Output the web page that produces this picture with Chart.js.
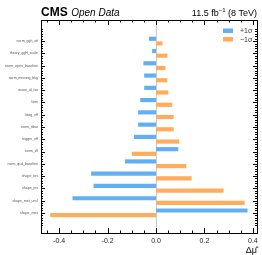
<!DOCTYPE html>
<html><head><meta charset="utf-8">
<script src="https://cdn.jsdelivr.net/npm/chart.js@4"></script>
<style>html,body{margin:0;padding:0;background:#fff}#w{width:262px;height:255px}</style>
</head><body><div id="w"><canvas id="c"></canvas></div>
<script>
const categories = ["norm_ggh_ztt","theory_ggH_scale","norm_wjets_baseline","norm_missing_bkg","muon_id_iso","lumi","btag_eff","norm_ttbar","trigger_eff","norm_zll","norm_qcd_baseline","shape_tes","shape_jes","shape_met_uncl","shape_mes"];
const plusOne  = [-0.029,-0.016,-0.052,-0.049,-0.049,-0.065,-0.074,-0.074,-0.091,0.092,-0.128,-0.268,-0.258,-0.345,0.378];
const minusOne = [0.027,0.047,0.039,0.047,0.051,0.067,0.073,0.073,0.096,-0.100,0.125,0.147,0.279,0.366,-0.437];
const xTicks = [-0.4,-0.2,0.0,0.2,0.4];
const seriesLabels = ["+1σ","−1σ"];
const colors = ["#62b0f3","#ffad5c"];

const decor = {
  id:'decor',
  beforeDatasetsDraw(chart){
    const {ctx, chartArea:a, scales:{x}} = chart;
    ctx.save();
    ctx.strokeStyle='#c8c8c8'; ctx.lineWidth=1;
    const px = Math.round(x.getPixelForValue(0))+0.5;
    ctx.beginPath(); ctx.moveTo(px,a.top); ctx.lineTo(px,a.bottom); ctx.stroke();
    ctx.restore();
  },
  afterDraw(chart){
    const {ctx, chartArea:a, scales:{x,y}} = chart;
    ctx.save();
    ctx.strokeStyle='#000'; ctx.lineWidth=1;
    ctx.strokeRect(Math.round(a.left)+0.5, Math.round(a.top)+0.5, Math.round(a.right-a.left), Math.round(a.bottom-a.top));
    ctx.beginPath();
    // x ticks
    for (let k=-9;k<=8;k++){
      const v=k*0.05; if (v<x.min||v>x.max) continue;
      const p=Math.round(x.getPixelForValue(v))+0.5;
      const major = Math.abs(Math.round(v*10)/10 - v)<1e-9 && Math.round(v*10)%2===0;
      const L = major?5:2.5;
      ctx.moveTo(p,a.bottom); ctx.lineTo(p,a.bottom-L);
      ctx.moveTo(p,a.top); ctx.lineTo(p,a.top+L);
    }
    // y ticks
    for (let i=-5;i<=75;i++){
      const v=i/5; if (v<y.min||v>y.max) continue;
      const p=Math.round(y.getPixelForValue(v))+0.5;
      const major = i%5===0 && v>=0 && v<=14;
      const L = major?4:2;
      ctx.moveTo(a.left,p); ctx.lineTo(a.left+L,p);
      ctx.moveTo(a.right,p); ctx.lineTo(a.right-L,p);
    }
    ctx.stroke();
    // header
    ctx.fillStyle='#000'; ctx.textBaseline='alphabetic';
    ctx.font='bold 12px "Liberation Sans", Arial, sans-serif';
    ctx.textAlign='left';
    ctx.fillText('CMS', a.left, 16);
    const w = ctx.measureText('CMS').width;
    ctx.font='italic 10px "Liberation Sans", Arial, sans-serif';
    ctx.fillText('Open Data', a.left+w+3.5, 16);
    ctx.textAlign='right';
    ctx.font='9px "Liberation Sans", Arial, sans-serif';
    const t2=' (8 TeV)';
    ctx.fillText(t2, a.right, 16);
    let r = a.right - ctx.measureText(t2).width;
    ctx.font='6px "Liberation Sans", Arial, sans-serif';
    ctx.fillText('−1', r, 12);
    r -= ctx.measureText('−1').width;
    ctx.font='9px "Liberation Sans", Arial, sans-serif';
    ctx.fillText('11.5 fb', r, 16);
    // legend
    ctx.textAlign='left';
    ctx.font='7px "Liberation Sans", Arial, sans-serif';
    chart.data.datasets.forEach((ds,i)=>{
      const yy = 28.5 + i*8.5;
      ctx.fillStyle = ds.backgroundColor;
      ctx.fillRect(223, yy, 10, 4.5);
      ctx.fillStyle='#333';
      ctx.fillText(ds.label, 240, yy+4.5);
    });
    // axis title
    ctx.textAlign='right'; ctx.fillStyle='#000';
    ctx.font='9px "Liberation Sans", Arial, sans-serif';
    ctx.fillText('Δμ\u0302', a.right, 253);
    ctx.restore();
  }
};

new Chart(document.getElementById('c'), {
  type:'bar',
  data:{
    datasets:[
      {label:seriesLabels[0], data:plusOne.map((v,i)=>({x:v,y:i})), backgroundColor:colors[0], categoryPercentage:0.76, barPercentage:0.9},
      {label:seriesLabels[1], data:minusOne.map((v,i)=>({x:v,y:i})), backgroundColor:colors[1], categoryPercentage:0.76, barPercentage:0.9}
    ]
  },
  options:{
    indexAxis:'y', responsive:true, maintainAspectRatio:false, animation:false,
    layout:{padding:{top:20,right:5,left:0,bottom:0}},
    plugins:{legend:{display:false}, tooltip:{enabled:false}},
    scales:{
      x:{type:'linear', min:-0.475, max:0.417,
        afterBuildTicks(s){ s.ticks = xTicks.map(v=>({value:v})); },
        afterFit(s){ s.height = 22; },
        grid:{display:false, drawTicks:false}, border:{display:false},
        ticks:{padding:4, color:'#222', font:{size:7, family:'"Liberation Sans", Arial'}, maxRotation:0,
          callback:(v)=>v.toFixed(1)}
      },
      y:{type:'linear', reverse:true, min:-1.141, max:15.065,
        afterBuildTicks(s){ s.ticks = categories.map((c,i)=>({value:i})); },
        afterFit(s){ s.width = 41; },
        grid:{display:false, drawTicks:false}, border:{display:false},
        ticks:{padding:3, color:'#555', font:{size:3.5, family:'"Liberation Sans", Arial'}, autoSkip:false,
          callback:(v)=>categories[v]}
      }
    }
  },
  plugins:[decor]
});
</script></body></html>
